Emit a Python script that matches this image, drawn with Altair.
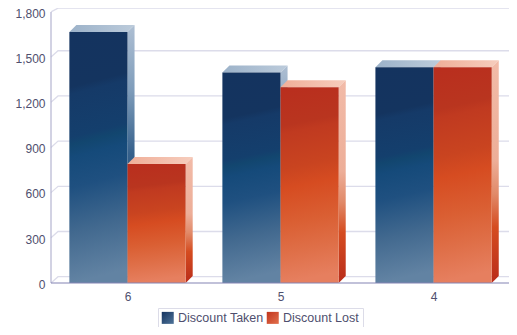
import altair as alt
import pandas as pd

categories = ["6", "5", "4"]
series = ["Discount Taken", "Discount Lost"]
taken = [1667, 1398, 1433]
lost = [790, 1300, 1433]
ticks = [0, 300, 600, 900, 1200, 1500, 1800]

FONT = "Liberation Sans"
TEXT = "#4f4f6e"
HALF = 0.38      # bar width, in group units
DX = 0.046       # 3D depth along x
DY = 46          # 3D depth along y, in value units
XMIN, XMAX = 0.5, 3.493
YMAX = 1826

x_scale = alt.Scale(domain=[XMIN, XMAX], nice=False, zero=False)
y_scale = alt.Scale(domain=[0, YMAX], nice=False, zero=False)


def grad(stops, x2=0.0, y2=1.0):
    return alt.Gradient(
        gradient="linear", x1=0, y1=0, x2=x2, y2=y2,
        stops=[alt.GradientStop(offset=o, color=c) for o, c in stops],
    )


def swatch(c0, c1):
    return {"expr": "{gradient:'linear',x1:0,y1:0,x2:1,y2:1,stops:[{offset:0,color:'%s'},{offset:1,color:'%s'}]}" % (c0, c1)}


TAKEN_FRONT = [(0, "#14335f"), (0.22, "#14345f"), (0.25, "#153a68"), (0.42, "#143f6d"),
               (0.45, "#12466f"), (0.5, "#154a7a"), (0.62, "#1f5080"), (0.8, "#42698f"), (1, "#6283a3")]
LOST_FRONT = [(0, "#b92e1e"), (0.2, "#b9351f"), (0.24, "#c03a20"), (0.42, "#c94420"),
              (0.52, "#d64c21"), (0.7, "#da5f33"), (0.85, "#df6f48"), (1, "#e67f5f")]
TAKEN_SIDE = [(0, "#aebfd3"), (0.25, "#7f9dbb"), (0.5, "#35608b"), (1, "#153a6a")]
LOST_SIDE = [(0, "#f2bba8"), (0.45, "#edae98"), (0.6, "#e18a69"), (0.75, "#d54c20"), (1, "#b92c1a")]
TAKEN_TOP = [(0, "#9cb2c9"), (1, "#bccbdb")]
LOST_TOP = [(0, "#f0ae98"), (1, "#f6cdbd")]

front, side, top = [], [], []
for i, cat in enumerate(categories):
    c = i + 1
    for s, v, x0, x1 in ((series[0], taken[i], c - HALF, c), (series[1], lost[i], c, c + HALF)):
        b = f"{cat}-{s}"
        front.append(dict(bar=b, s=s, x=x0, x2=x1, y=v, y2=0))
        side += [dict(bar=b, s=s, x=x1, y=v, y2=0),
                 dict(bar=b, s=s, x=x1 + DX, y=v + DY, y2=DY)]
        top += [dict(bar=b, s=s, x=x0, y=v, y2=v),
                dict(bar=b, s=s, x=x0 + DX, y=v + DY, y2=v),
                dict(bar=b, s=s, x=x1, y=v + DY, y2=v),
                dict(bar=b, s=s, x=x1 + DX, y=v + DY, y2=v + DY)]
front, side, top = pd.DataFrame(front), pd.DataFrame(side), pd.DataFrame(top)

grid = []
for t in ticks:
    grid += [dict(t=t, x=XMIN, y=t), dict(t=t, x=XMIN + DX, y=min(t + DY - 4, YMAX - 1)),
             dict(t=t, x=XMAX, y=min(t + DY - 4, YMAX - 1))]
grid = pd.DataFrame(grid)

label_expr = "[" + ",".join(f"'{c}'" for c in categories) + "][datum.value-1]"

X = alt.X("x:Q", scale=x_scale, title=None,
          axis=alt.Axis(values=[1, 2, 3], labelExpr=label_expr, domain=False, ticks=False, grid=False,
                        labelPadding=8, labelFont=FONT, labelFontSize=12, labelColor=TEXT))
Y = alt.Y("y:Q", scale=y_scale, title=None, stack=None,
          axis=alt.Axis(values=ticks, format=",d", domain=False, ticks=False, grid=False,
                        labelBaseline="top", labelOffset=-3.8, labelFlush=False,
                        labelPadding=6, labelFont=FONT, labelFontSize=12, labelColor=TEXT))

walls = alt.Chart(grid).mark_line(stroke="#dcdcea", strokeWidth=1.3).encode(x=X, y=Y, detail="t:N", order="x:Q")

left_axis = alt.Chart(pd.DataFrame({"x": [XMIN], "y": [0], "y2": [1800]})).mark_rule(
    stroke="#b4b4d0", strokeWidth=1.2).encode(x=X, y=Y, y2="y2:Q")
base_axis = alt.Chart(pd.DataFrame({"x": [XMIN], "x2": [XMAX], "y": [0]})).mark_rule(
    stroke="#8484b4", strokeWidth=1.2).encode(x=X, x2="x2:Q", y=Y)


def faces(name, ftop, fside, ffront):
    t = alt.Chart(top[top.s == name]).mark_area(color=ftop).encode(x=X, y=Y, y2="y2:Q", detail="bar:N")
    d = alt.Chart(side[side.s == name]).mark_area(color=fside).encode(x=X, y=Y, y2="y2:Q", detail="bar:N")
    f = alt.Chart(front[front.s == name]).mark_rect(fill=ffront).encode(x=X, x2="x2:Q", y=Y, y2="y2:Q")
    return [t, d, f]


legend_layer = alt.Chart(pd.DataFrame({"s": series, "x": [1, 2], "y": [0, 0]})).mark_square(size=0, opacity=0).encode(
    x=X, y=Y,
    color=alt.Color(
        "s:N",
        sort=series,
        scale=alt.Scale(domain=series, range=[swatch("#14335f", "#4f7499"), swatch("#c0351d", "#e2704c")]),
        legend=alt.Legend(
            title=None, orient="none", legendX=107, legendY=300, direction="horizontal", columns=2,
            symbolType="square", symbolSize=144, symbolOpacity=1, symbolStrokeWidth=0,
            labelFont=FONT, labelFontSize=12.5, labelColor=TEXT, labelOffset=4, gridAlign="all",
            columnPadding=3, padding=3.5, fillColor="white", strokeColor="#dcdce8",
        ),
    ),
)

chart = alt.layer(
    walls, left_axis,
    *faces(series[0], grad(TAKEN_TOP, 1, 0), grad(TAKEN_SIDE), grad(TAKEN_FRONT, 0.06, 1)),
    *faces(series[1], grad(LOST_TOP, 1, 0), grad(LOST_SIDE), grad(LOST_FRONT, 0.06, 1)),
    base_axis, legend_layer,
).properties(
    width=458, height=275, background="white",
    padding={"left": 43, "top": 0, "right": 0, "bottom": 44},
    autosize=alt.AutoSizeParams(type="none"),
).configure_view(stroke=None)

chart.save("out.html", embed_options={"renderer": "svg", "actions": False})
